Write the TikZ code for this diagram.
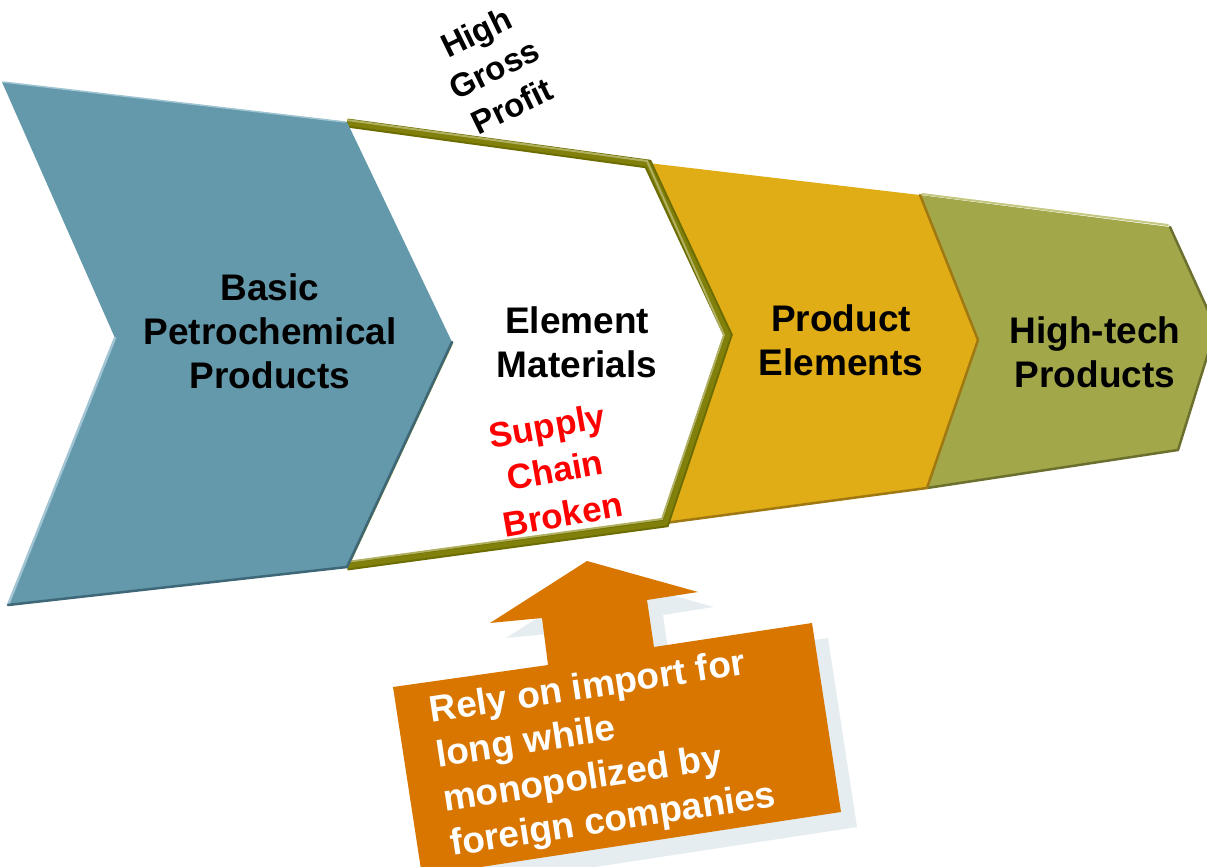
\documentclass[tikz,border=0pt]{standalone}
\usepackage{fontspec}
\setmainfont{Liberation Sans}
\definecolor{chevblue}{RGB}{99,153,171}
\definecolor{chevbluedark}{RGB}{62,104,120}
\definecolor{chevbluelight}{RGB}{160,196,210}
\definecolor{chevgold}{RGB}{224,173,22}
\definecolor{chevgolddark}{RGB}{160,120,18}
\definecolor{chevgreen}{RGB}{162,167,74}
\definecolor{chevgreendark}{RGB}{108,112,46}
\definecolor{chevgreenlight}{RGB}{196,200,130}
\definecolor{olivemain}{RGB}{128,128,10}
\definecolor{olivedark}{RGB}{108,108,0}
\definecolor{olivelight}{RGB}{176,176,96}
\definecolor{callorange}{RGB}{216,118,0}
\definecolor{callshadow}{RGB}{230,237,241}
\begin{document}
\begin{tikzpicture}[x=1pt,y=-1pt,
  lbl/.style={font=\bfseries\fontsize{37}{44}\selectfont, align=center, inner sep=0pt, text=black},
  redlbl/.style={font=\bfseries\fontsize{35}{45}\selectfont, align=center, inner sep=0pt, text=red},
  toplbl/.style={font=\bfseries\fontsize{33}{41}\selectfont, align=center, inner sep=0pt, text=black},
  calllbl/.style={font=\bfseries\fontsize{37}{45}\selectfont, align=left, inner sep=0pt, text=white},
  edge/.style={line width=#1, line cap=round, line join=round},
  edge/.default=2.5pt]
\useasboundingbox (0,0) rectangle (1207,867);
\clip (0,0) rectangle (1207,867);
% ---------- green chevron ----------
\fill[chevgreen] (920,195) -- (1170,227) -- (1216,328) -- (1178,450) -- (927,488) -- (978,340) -- cycle;
\draw[chevgreendark, edge] (1170,227) -- (1216,328) -- (1178,450) -- (927,488);
\draw[chevgreenlight, edge=2pt] (922,194) -- (1168,225);
% ---------- gold chevron ----------
\fill[chevgold] (648,163) -- (920,195) -- (978,340) -- (927,488) -- (665,523) -- (728,335) -- cycle;
\draw[chevgolddark, edge] (920,195) -- (978,340) -- (927,488) -- (665,523);
% ---------- white chevron with olive frame ----------
\fill[white] (347,122) -- (648,163) -- (728,335) -- (665,523) -- (347,567) -- (452,342) -- cycle;
\draw[olivemain, line width=3pt] (452,342) -- (347,567);
\draw[olivedark, line width=9pt, line join=miter] (347,123) -- (648,164) -- (728,335) -- (665,523) -- (347,566);
\draw[olivemain, line width=5pt, line join=miter] (347,123) -- (648,164) -- (728,335) -- (665,523) -- (347,566);
\draw[olivelight, line width=2pt, line join=miter] (347,120) -- (647,161) -- (724,335) -- (662,519) -- (347,562);
% ---------- blue chevron ----------
\fill[chevblue] (2,82) -- (347,122) -- (452,342) -- (347,567) -- (8,605) -- (115,338) -- cycle;
\draw[chevbluelight, edge] (115,338) -- (8,605);
\draw[chevbluelight, edge=1.5pt] (3,82) -- (345,122);
\draw[chevbluedark, edge] (8,605) -- (347,567) -- (452,342);
% ---------- callout arrow ----------
\fill[callshadow, shift={(16,15)}] (587,561) -- (698,592) -- (647,600) -- (654,647) -- (812,623) -- (841,812) -- (422,876) -- (393,687) -- (548,665) -- (542,618) -- (490,623) -- cycle;
\fill[callorange] (587,561) -- (698,592) -- (647,600) -- (654,647) -- (812,623) -- (841,812) -- (422,876) -- (393,687) -- (548,665) -- (542,618) -- (490,623) -- cycle;
% ---------- labels ----------
\node[lbl] (basic) at (270,331) {Basic\\Petrochemical\\Products};
\node[lbl] (element) at (577,342) {Element\\Materials};
\node[lbl] (product) at (841,340) {Product\\Elements};
\node[lbl] (hightech) at (1095,352) {High-tech\\Products};
\node[redlbl, rotate=10] (supply) at (555,470) {Supply\\Chain\\Broken};
\node[toplbl, rotate=26] (gross) at (494,69) {High\\Gross\\Profit};
\node[calllbl, rotate=8.7] (rely) at (603,755) {Rely on import for\\long while\\monopolized by\\foreign companies};
\end{tikzpicture}
\end{document}
